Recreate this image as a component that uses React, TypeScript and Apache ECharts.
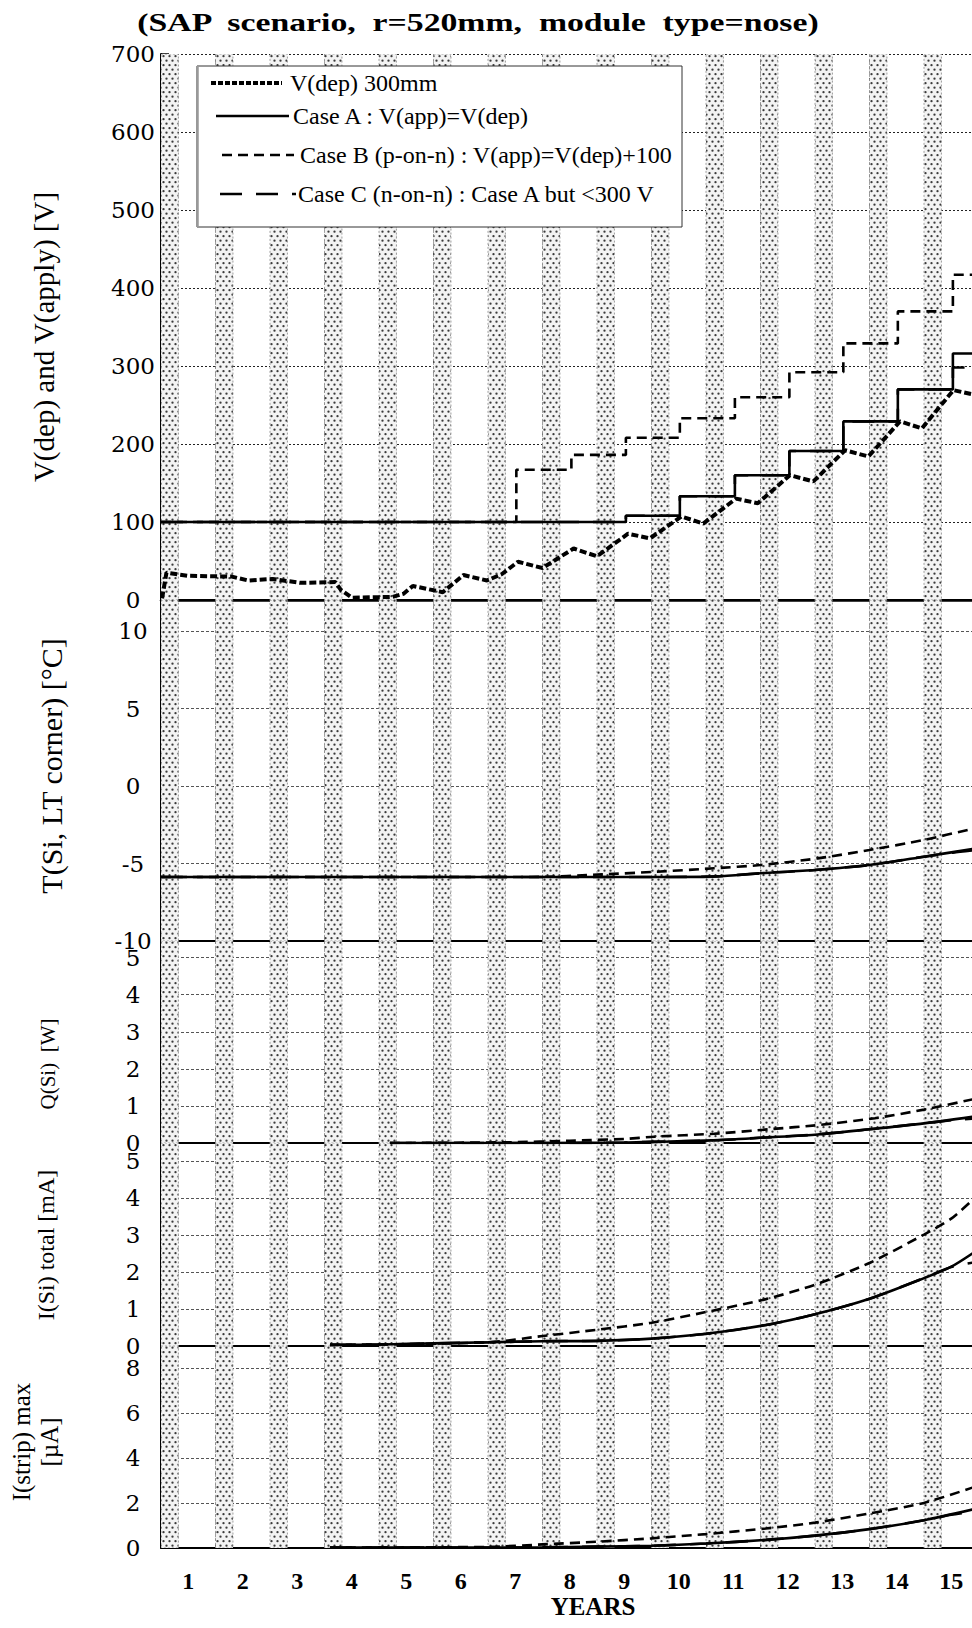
import React, { useEffect, useRef } from 'react';
import * as echarts from 'echarts';

// ---------------- data ----------------
const xLabels = ['1', '2', '3', '4', '5', '6', '7', '8', '9', '10', '11', '12', '13', '14', '15'];
const bandStarts = [0, 1, 2, 3, 4, 5, 6, 7, 8, 9, 10, 11, 12, 13, 14];
const bandWidth = 0.32;

// V panel (years, volts)
const vDep = [
  [0.02, 2], [0.1, 35], [0.5, 31], [1.3, 30], [1.6, 25], [2.05, 27], [2.55, 22], [3.2, 23], [3.3, 13],
  [3.5, 3], [4.25, 4], [4.45, 8], [4.62, 18], [5.17, 10], [5.55, 32], [5.98, 25], [6.25, 33], [6.55, 49],
  [7.0, 41], [7.57, 66], [8.0, 56], [8.57, 85], [8.97, 79], [9.55, 107], [9.95, 98], [10.55, 130],
  [10.95, 124], [11.54, 160], [11.97, 152], [12.55, 192], [12.98, 184], [13.56, 229], [13.96, 220],
  [14.54, 269], [15.0, 262],
];
const vCaseA = [[0, 100], [8.53, 108], [9.52, 133], [10.53, 160], [11.53, 191], [12.52, 229], [13.52, 270], [14.53, 316], [15, 316]];
const vCaseB = [[0, 100], [6.52, 167], [7.53, 186], [8.53, 208], [9.52, 233], [10.53, 260], [11.53, 292], [12.52, 329], [13.52, 370], [14.53, 417], [15, 417]];
const vCaseC = [[0, 100], [8.53, 108], [9.52, 133], [10.53, 160], [11.53, 191], [12.52, 229], [13.52, 270], [14.53, 298], [15, 298]];

// T panel (deg C)
const tCaseA = [[0, -5.87], [9.3, -5.87], [10.2, -5.83], [11, -5.63], [12, -5.42], [13, -5.1], [14, -4.56], [14.9, -4.06]];
const tCaseB = [[0, -5.87], [6.8, -5.87], [8.1, -5.7], [9.1, -5.53], [10.15, -5.31], [11, -5.1], [12.05, -4.67], [13, -4.13], [14, -3.48], [14.9, -2.75]];
const tCaseC = [[0, -5.87], [9.3, -5.87], [10.2, -5.83], [11, -5.63], [12, -5.42], [13, -5.1], [14, -4.56], [14.53, -4.3], [14.9, -4.15]];

// Q panel (W)
const qCaseA = [[4.2, 0], [7, 0], [8.5, 0.01], [9.0, 0.03], [10.1, 0.07], [11.1, 0.15], [12.05, 0.23], [13, 0.37], [14, 0.53], [14.9, 0.71]];
const qCaseB = [[4.2, 0], [6.4, 0.02], [7.5, 0.06], [8.5, 0.11], [9.05, 0.17], [10.15, 0.25], [11.15, 0.37], [12.1, 0.49], [13.1, 0.67], [14, 0.9], [14.9, 1.18]];
const qCaseC = [[4.2, 0], [7, 0], [8.5, 0.01], [9.0, 0.03], [10.1, 0.07], [11.1, 0.15], [12.05, 0.23], [13, 0.37], [14, 0.53], [14.53, 0.62], [14.9, 0.66]];

// I(Si) total panel (mA)
const iCaseA = [[3.1, 0.03], [4, 0.04], [5, 0.07], [6, 0.1], [7, 0.13], [8, 0.14], [9, 0.2], [10, 0.33], [11.1, 0.57], [12, 0.86], [13, 1.28], [14, 1.84], [14.5, 2.15], [14.9, 2.52]];
const iCaseB = [[3.1, 0.03], [6, 0.1], [7, 0.27], [8, 0.44], [9, 0.63], [10, 0.92], [11.1, 1.27], [12, 1.66], [13, 2.25], [14, 3.02], [14.5, 3.45], [14.9, 3.97]];
const iCaseC = [[3.1, 0.03], [4, 0.04], [5, 0.07], [6, 0.1], [7, 0.13], [8, 0.14], [9, 0.2], [10, 0.33], [11.1, 0.57], [12, 0.86], [13, 1.28], [14, 1.84], [14.5, 2.14], [14.9, 2.26]];

// I(strip) max panel (uA)
const sCaseA = [[3.1, 0.02], [5, 0.02], [7, 0.03], [8, 0.06], [9, 0.1], [10, 0.2], [11.1, 0.36], [12, 0.55], [13, 0.84], [14, 1.24], [14.9, 1.72]];
const sCaseB = [[3.1, 0.02], [6, 0.05], [7, 0.16], [8, 0.28], [9, 0.43], [10, 0.62], [11.1, 0.87], [12, 1.13], [13, 1.54], [14, 2.01], [14.9, 2.7]];
const sCaseC = [[3.1, 0.02], [5, 0.02], [7, 0.03], [8, 0.06], [9, 0.1], [10, 0.2], [11.1, 0.36], [12, 0.55], [13, 0.84], [14, 1.24], [14.5, 1.48], [14.9, 1.62]];

const legendNames = ['V(dep) 300mm', 'Case A : V(app)=V(dep)', 'Case B (p-on-n) : V(app)=V(dep)+100', 'Case C (n-on-n) : Case A but <300 V'];
const yNames = ['V(dep) and V(apply) [V]', 'T(Si, LT corner) [°C]', 'Q(Si)  [W]', 'I(Si) total [mA]', 'I(strip) max\n[µA]'];
const titleText = '(SAP  scenario,  r=520mm,  module  type=nose)';

// axis ranges
const yRanges = [
  { min: 0, max: 700, interval: 100, minor: 5 },
  { min: -10, max: 12, interval: 5, minor: 5 },
  { min: 0, max: 5.45, interval: 1, minor: 5 },
  { min: 0, max: 5.5, interval: 1, minor: 5 },
  { min: 0, max: 9, interval: 2, minor: 4 },
];

// layout
const GRID_LEFT = 161;
const GRID_W = 817.5;
const gridTops = [54, 600, 941, 1143, 1346];
const gridHeights = [546, 341, 202, 203, 202];

const SERIF = 'Liberation Serif';
const WIDE_SERIF = 'DejaVu Serif';

function makePattern() {
  const svg =
    "<svg xmlns='http://www.w3.org/2000/svg' width='6' height='9'>" +
    "<rect width='6' height='9' fill='#f3f3f3'/>" +
    "<circle cx='1.5' cy='2.2' r='1.15' fill='#3a3a3a'/>" +
    "<circle cx='4.5' cy='6.7' r='1.15' fill='#3a3a3a'/>" +
    '</svg>';
  return {
    image: 'data:image/svg+xml;charset=utf-8,' + encodeURIComponent(svg),
    repeat: 'repeat',
    imageWidth: 6,
    imageHeight: 9,
  };
}

export default function App() {
  const ref = useRef<HTMLDivElement>(null);

  useEffect(() => {
    if (!ref.current) return;
    const chart = echarts.init(ref.current, null, { renderer: 'svg' });
    const pattern = makePattern();

    const grids = gridTops.map((top, i) => ({ left: GRID_LEFT, top, width: GRID_W, height: gridHeights[i] }));

    const xAxes: any[] = gridTops.map((_, i) => ({
      type: 'value',
      gridIndex: i,
      min: 0,
      max: 15,
      interval: 1,
      position: 'bottom',
      axisLine: { show: true, onZero: false, lineStyle: { color: '#000', width: 2 } },
      axisTick: { show: false },
      axisLabel: { show: false },
      splitLine: { show: true, lineStyle: { color: '#555', width: 1, type: [3, 3] } },
    }));
    // top border of the first panel
    xAxes.push({
      type: 'value', gridIndex: 0, min: 0, max: 15, position: 'top',
      axisLine: { show: true, lineStyle: { color: '#000', width: 2.5 } },
      axisTick: { show: false }, axisLabel: { show: false }, splitLine: { show: false },
    });
    // year labels
    xAxes.push({
      type: 'category', gridIndex: 4, data: xLabels, position: 'bottom', boundaryGap: true,
      axisLine: { show: false }, axisTick: { show: false }, splitLine: { show: false },
      axisLabel: { show: true, margin: 21, color: '#000', fontFamily: SERIF, fontWeight: 'bold', fontSize: 24 },
    });

    const yAxes = yRanges.map((r, i) => ({
      type: 'value',
      gridIndex: i,
      min: r.min,
      max: r.max,
      interval: r.interval,
      axisLine: { show: true, lineStyle: { color: '#000', width: 2 } },
      axisTick: { show: true, inside: true, length: 8, lineStyle: { color: '#000', width: 1.5 } },
      minorTick: { show: true, splitNumber: r.minor, length: 6, lineStyle: { color: '#000', width: 1 } },
      axisLabel: {
        show: true, showMaxLabel: r.max % r.interval === 0, margin: 28, align: 'center', color: '#000',
        fontFamily: WIDE_SERIF, fontSize: 23,
      },
      splitLine: {
        show: true,
        lineStyle: i === 0 ? { color: '#222', width: 1, type: [2, 2] } : { color: '#555', width: 1, type: [3, 2] },
      },
    }));

    const bandSeries = gridTops.map((_, i) => ({
      type: 'custom',
      xAxisIndex: i,
      yAxisIndex: i,
      silent: true,
      z: 1,
      clip: true,
      data: bandStarts.map((s) => [s, yRanges[i].min]),
      renderItem: (params: any, api: any) => {
        const s = api.value(0);
        const p0 = api.coord([s, yRanges[i].min]);
        const p1 = api.coord([s + bandWidth, yRanges[i].min]);
        const cs = params.coordSys;
        return {
          type: 'rect',
          shape: { x: p0[0], y: cs.y, width: p1[0] - p0[0], height: cs.height },
          style: { fill: pattern, stroke: '#8a8a8a', lineWidth: 0.8, lineDash: [2, 2] },
        };
      },
    }));

    const line = (name: string, data: number[][], idx: number, style: any, extra: any = {}) => ({
      type: 'line',
      name,
      data,
      xAxisIndex: idx,
      yAxisIndex: idx,
      symbol: 'none',
      z: 3,
      lineStyle: { color: '#000', ...style },
      ...extra,
    });

    const solid = { width: 2.6, type: 'solid' };
    const shortDash = { width: 2.6, type: [10, 6] };
    const longDash = { width: 2.6, type: [22, 14] };
    const depStyle = { width: 4, type: [7, 3] };

    const dataSeries = [
      line(legendNames[0], vDep, 0, depStyle),
      line(legendNames[3], vCaseC, 0, longDash, { step: 'end' }),
      line(legendNames[2], vCaseB, 0, shortDash, { step: 'end' }),
      line(legendNames[1], vCaseA, 0, solid, { step: 'end' }),

      line(legendNames[3], tCaseC, 1, longDash, { smooth: 0.25 }),
      line(legendNames[2], tCaseB, 1, shortDash, { smooth: 0.25 }),
      line(legendNames[1], tCaseA, 1, solid, { smooth: 0.25 }),

      line(legendNames[3], qCaseC, 2, longDash, { smooth: 0.25 }),
      line(legendNames[2], qCaseB, 2, shortDash, { smooth: 0.25 }),
      line(legendNames[1], qCaseA, 2, solid, { smooth: 0.25 }),

      line(legendNames[3], iCaseC, 3, longDash, { smooth: 0.25 }),
      line(legendNames[2], iCaseB, 3, shortDash, { smooth: 0.25 }),
      line(legendNames[1], iCaseA, 3, solid, { smooth: 0.25 }),

      line(legendNames[3], sCaseC, 4, longDash, { smooth: 0.25 }),
      line(legendNames[2], sCaseB, 4, shortDash, { smooth: 0.25 }),
      line(legendNames[1], sCaseA, 4, solid, { smooth: 0.25 }),
    ];

    // legend box (drawn as graphic)
    const legendRowsY = [83, 116, 155, 194];
    const legendLineX = [[211, 282], [216, 289], [222, 294], [220, 296]];
    const legendTextX = [290, 293, 300, 298];
    const legendStyles = [
      { lineWidth: 4, lineDash: [5, 2] },
      { lineWidth: 2.6 },
      { lineWidth: 2.6, lineDash: [10, 6] },
      { lineWidth: 2.6, lineDash: [22, 14] },
    ];
    const legendEls: any[] = [
      { type: 'rect', shape: { x: 197, y: 66, width: 485, height: 161 }, style: { fill: '#fff', stroke: '#333', lineWidth: 1 }, z: 100 },
      { type: 'line', shape: { x1: 197.5, y1: 66, x2: 197.5, y2: 227 }, style: { stroke: '#999', lineWidth: 2.5 }, z: 101 },
    ];
    legendNames.forEach((n, k) => {
      legendEls.push({
        type: 'line', z: 101,
        shape: { x1: legendLineX[k][0], y1: legendRowsY[k], x2: legendLineX[k][1], y2: legendRowsY[k] },
        style: { stroke: '#000', ...legendStyles[k] },
      });
      legendEls.push({
        type: 'text', z: 101, x: legendTextX[k], y: legendRowsY[k],
        style: { text: n, fill: '#000', font: `24px "${SERIF}"`, align: 'left', verticalAlign: 'middle', textAlign: 'left', textVerticalAlign: 'middle' },
      });
    });

    const nameX = [44, 51, 48, 46, 35];
    const nameY = [337, 766, 1064, 1245, 1442];
    const nameSize = [29, 30, 21, 24, 25];
    const nameEls = yNames.map((n, k) => ({
      type: 'text', x: nameX[k], y: nameY[k], rotation: Math.PI / 2, z: 50,
      style: {
        text: n, fill: '#000', font: `${nameSize[k]}px "${SERIF}"`, lineHeight: 28,
        align: 'center', verticalAlign: 'middle', textAlign: 'center', textVerticalAlign: 'middle',
      },
    }));

    const option: any = {
      animation: false,
      backgroundColor: '#fff',
      grid: grids,
      xAxis: xAxes,
      yAxis: yAxes,
      series: [...bandSeries, ...dataSeries],
      graphic: [
        {
          type: 'text', x: 478, y: 23, z: 50, scaleX: 1.35, scaleY: 1,
          style: { text: titleText, fill: '#000', font: `bold 25px "${SERIF}"`, align: 'center', verticalAlign: 'middle', textAlign: 'center', textVerticalAlign: 'middle' },
        },
        {
          type: 'text', x: 593, y: 1606, z: 50,
          style: { text: 'YEARS', fill: '#000', font: `bold 25px "${SERIF}"`, align: 'center', verticalAlign: 'middle', textAlign: 'center', textVerticalAlign: 'middle' },
        },
        ...nameEls,
        ...legendEls,
      ],
    };
    chart.setOption(option);
    return () => chart.dispose();
  }, []);

  return (
    <div style={{ position: 'absolute', left: 0, top: 0, width: 972, height: 1628, overflow: 'hidden', background: '#fff' }}>
      <div ref={ref} style={{ width: 980, height: 1628 }} />
    </div>
  );
}
